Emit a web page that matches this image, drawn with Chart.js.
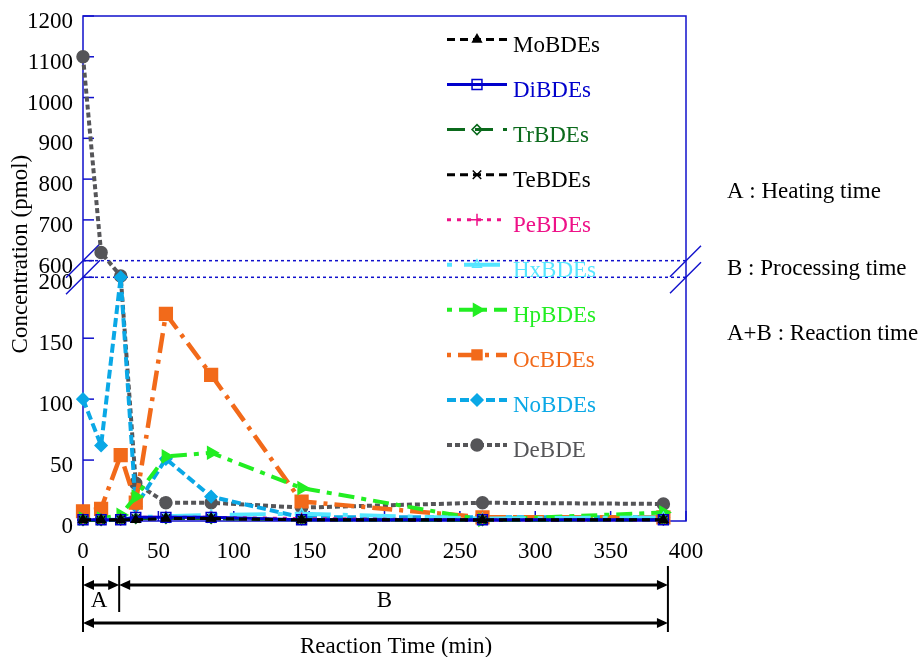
<!DOCTYPE html>
<html>
<head>
<meta charset="utf-8">
<title>PBDE concentration vs reaction time</title>
<script src="https://cdn.jsdelivr.net/npm/chart.js@4.4.1/dist/chart.umd.min.js"></script>
<style>
  body { margin: 0; background: #fff; }
  canvas { display: block; }
</style>
</head>
<body>
<canvas id="pbdeChart" width="919" height="657"></canvas>
<script>
// reaction time of each sample (min)
const times = [0, 12, 25, 35, 55, 85, 145, 265, 385];
const xTicksStep = 50;
const yTicks = [0, 50, 100, 150, 200, 600, 700, 800, 900, 1000, 1100, 1200];

// concentrations (pmol)
const moBDEs = [1, 1, 1, 1, 2, 2, 1, 1, 1];
const diBDEs = [1, 1, 1, 3, 3, 3, 1, 1, 1];
const trBDEs = [0.5, 0.5, 1, 2, 2, 2, 1, 0.5, 1];
const teBDEs = [0.5, 0.5, 1, 2, 2, 2, 1, 0.5, 1];
const peBDEs = [1, 1, 1, 3, 3, 3, 2, 1, 1];
const hxBDEs = [1, 1, 1, 3, 4, 5, 6, 2, 3];
const hpBDEs = [2, 2, 5, 20, 53, 56, 27, 1, 7];
const ocBDEs = [8, 10, 54, 15, 170, 120, 16, 3, 3];
const noBDEs = [100, 62, 200, 12, 51, 20, 3, 3, 3];
const deBDE = [1100, 620, 230, 31, 15, 15, 11, 15, 14];

// time spans shown under the axis
const heatingEnd = 24;
const processingEnd = 388;

const frameColor = '#1010cc';
const serif = '"Liberation Serif", "Times New Roman", serif';

// y axis with a break between 200 and 600
const LOW = 0.4826;  // share of the axis used by 0-200
const GAP = 0.0329;  // share used by the break
class BrokenLinearScale extends Chart.LinearScale {
    static id = 'brokenLinear';
    static defaults = Chart.LinearScale.defaults;

    buildTicks() {
        return yTicks.map(function (v) { return { value: v }; });
    }

    toDecimal(value) {
        if (value <= 200) return value / 200 * LOW;
        if (value <= 600) return LOW + (value - 200) / 400 * GAP;
        return LOW + GAP + (value - 600) / 600 * (1 - LOW - GAP);
    }

    getPixelForValue(value) {
        return this.getPixelForDecimal(this.toDecimal(value));
    }

    getValueForPixel(pixel) {
        const d = this.getDecimalForPixel(pixel);
        if (d <= LOW) return d / LOW * 200;
        if (d <= LOW + GAP) return 200 + (d - LOW) / GAP * 400;
        return 600 + (d - LOW - GAP) / (1 - LOW - GAP) * 600;
    }
}
Chart.register(BrokenLinearScale);

function series(label, values, color, style) {
    return Object.assign({
        label: label,
        data: values.map(function (v, i) { return { x: times[i], y: v }; }),
        borderColor: color,
        backgroundColor: color,
        pointBackgroundColor: color,
        pointBorderColor: color,
        pointBorderWidth: 1.5,
        pointRadius: 5,
        borderWidth: 3,
        tension: 0,
        clip: false
    }, style);
}

const datasets = [
    series('MoBDEs', moBDEs, '#000000', { borderDash: [8, 5], pointStyle: 'triangle' }),
    series('DiBDEs', diBDEs, '#0000cc', { borderDash: [], pointStyle: 'rect', pointRadius: 7, pointBackgroundColor: 'rgba(0,0,0,0)' }),
    series('TrBDEs', trBDEs, '#0b6a1c', { borderDash: [18, 10], pointStyle: 'rectRot', pointRadius: 5, pointBackgroundColor: 'rgba(0,0,0,0)' }),
    series('TeBDEs', teBDEs, '#000000', { borderDash: [8, 5], pointStyle: 'crossRot', pointRadius: 6 }),
    series('PeBDEs', peBDEs, '#ee1188', { borderDash: [4, 6], pointStyle: 'cross', pointRadius: 6 }),
    series('HxBDEs', hxBDEs, '#55e6ff', { borderDash: [5, 12, 36, 12], borderWidth: 4, pointStyle: 'triangle', pointBackgroundColor: 'rgba(0,0,0,0)' }),
    series('HpBDEs', hpBDEs, '#22ee22', { borderDash: [5, 7, 16, 7], borderWidth: 4, pointStyle: 'triangle', pointRotation: 90, pointRadius: 7 }),
    series('OcBDEs', ocBDEs, '#f26a1a', { borderDash: [4, 7, 20, 7], borderWidth: 4.5, pointStyle: 'rect', pointRadius: 9 }),
    series('NoBDEs', noBDEs, '#0aa8e6', { borderDash: [9, 4], borderWidth: 4, pointStyle: 'rectRot', pointRadius: 6 }),
    series('DeBDE', deBDE, '#555558', { borderDash: [5, 3], borderWidth: 4, pointStyle: 'circle', pointRadius: 6 })
];

function line(ctx, x1, y1, x2, y2) {
    ctx.beginPath();
    ctx.moveTo(x1, y1);
    ctx.lineTo(x2, y2);
    ctx.stroke();
}

function arrowHead(ctx, x, y, dir) {
    ctx.beginPath();
    ctx.moveTo(x, y);
    ctx.lineTo(x - dir * 11, y - 5);
    ctx.lineTo(x - dir * 11, y + 5);
    ctx.closePath();
    ctx.fill();
}

function doubleArrow(ctx, x1, x2, y) {
    line(ctx, x1 + 4, y, x2 - 4, y);
    arrowHead(ctx, x1, y, -1);
    arrowHead(ctx, x2, y, 1);
}

// frame, inward ticks and break marks
const framePlugin = {
    id: 'frame',
    beforeDatasetsDraw(chart) {
        const ctx = chart.ctx;
        const a = chart.chartArea;
        const xs = chart.scales.x, ys = chart.scales.y;
        ctx.save();
        ctx.strokeStyle = frameColor;
        ctx.lineWidth = 1.5;
        ctx.strokeRect(a.left, a.top, a.right - a.left, a.bottom - a.top);

        ys.ticks.forEach(function (t) {
            const py = ys.getPixelForValue(t.value);
            line(ctx, a.left, py, a.left + 11, py);
        });
        xs.ticks.forEach(function (t) {
            const px = xs.getPixelForValue(t.value);
            line(ctx, px, a.bottom, px, a.bottom - 10);
        });

        [200, 600].forEach(function (v) {
            const py = ys.getPixelForValue(v);
            ctx.setLineDash([3, 3]);
            line(ctx, a.left, py, a.right, py);
            ctx.setLineDash([]);
            line(ctx, a.left - 17, py + 17, a.left + 17, py - 17);
            line(ctx, a.right - 16, py + 16, a.right + 15, py - 15);
        });
        ctx.restore();
    },
    afterDraw(chart) {
        const ctx = chart.ctx;
        const xs = chart.scales.x;
        ctx.save();

        // legend inside the plot
        ctx.font = '23px ' + serif;
        ctx.textBaseline = 'middle';
        chart.data.datasets.forEach(function (ds, i) {
            const y = 39.5 + i * 45.06;
            ctx.strokeStyle = ds.borderColor;
            ctx.lineWidth = ds.borderWidth;
            ctx.setLineDash(ds.borderDash || []);
            line(ctx, 447, y, 507, y);
            ctx.setLineDash([]);
            ctx.fillStyle = ds.pointBackgroundColor;
            ctx.lineWidth = ds.pointBorderWidth;
            Chart.helpers.drawPoint(ctx, {
                pointStyle: ds.pointStyle,
                rotation: ds.pointRotation || 0,
                radius: Math.min(ds.pointRadius, 7),
                borderWidth: ds.pointBorderWidth
            }, 477, y);
            ctx.fillStyle = ds.borderColor;
            ctx.fillText(ds.label, 513, y + 6);
        });

        // notes on the right
        ctx.fillStyle = '#000';
        ctx.fillText('A : Heating time', 727, 192);
        ctx.fillText('B : Processing time', 727, 269);
        ctx.fillText('A+B : Reaction time', 727, 334);

        // heating / processing spans below the axis
        const x0 = xs.getPixelForValue(0);
        const xA = xs.getPixelForValue(heatingEnd);
        const xB = xs.getPixelForValue(processingEnd);
        ctx.strokeStyle = '#000';
        ctx.lineWidth = 2;
        line(ctx, x0, 566, x0, 632);
        line(ctx, xA, 566, xA, 612);
        line(ctx, xB, 566, xB, 632);
        ctx.lineWidth = 3;
        doubleArrow(ctx, x0, xA, 585);
        doubleArrow(ctx, xA, xB, 585);
        doubleArrow(ctx, x0, xB, 623);
        ctx.textAlign = 'center';
        ctx.fillText('A', xs.getPixelForValue(heatingEnd / 2) - 2, 601);
        ctx.fillText('B', xs.getPixelForValue(200), 601);
        ctx.restore();
    }
};

Chart.defaults.font.family = serif;
Chart.defaults.font.size = 23;
Chart.defaults.color = '#000';

new Chart(document.getElementById('pbdeChart'), {
    type: 'line',
    data: { datasets: datasets },
    options: {
        responsive: false,
        animation: false,
        layout: { padding: { top: 16, right: 233, left: 0, bottom: 0 } },
        plugins: {
            legend: { display: false },
            tooltip: { enabled: false }
        },
        scales: {
            x: {
                type: 'linear',
                min: 0,
                max: 400,
                grid: { display: false, drawTicks: false },
                border: { display: false },
                ticks: { stepSize: xTicksStep, padding: 17, maxRotation: 0 },
                title: {
                    display: true,
                    text: '    Reaction Time (min)',
                    font: { size: 23, lineHeight: 0.9 },
                    padding: { top: 0, bottom: 0 }
                },
                afterFit: function (scale) {
                    scale.height = 136;
                    scale.paddingLeft = 0;
                    scale.paddingRight = 0;
                }
            },
            y: {
                type: 'brokenLinear',
                min: 0,
                max: 1200,
                grid: { display: false, drawTicks: false },
                border: { display: false },
                ticks: {
                    autoSkip: false,
                    padding: 10,
                    labelOffset: 6,
                    callback: function (v) { return String(v); }
                },
                title: {
                    display: true,
                    text: '     Concentration (pmol)',
                    padding: { top: 7, bottom: 0 }
                },
                afterFit: function (scale) {
                    scale.width = 83;
                    scale.paddingTop = 0;
                    scale.paddingBottom = 0;
                }
            }
        }
    },
    plugins: [framePlugin]
});
</script>
</body>
</html>
